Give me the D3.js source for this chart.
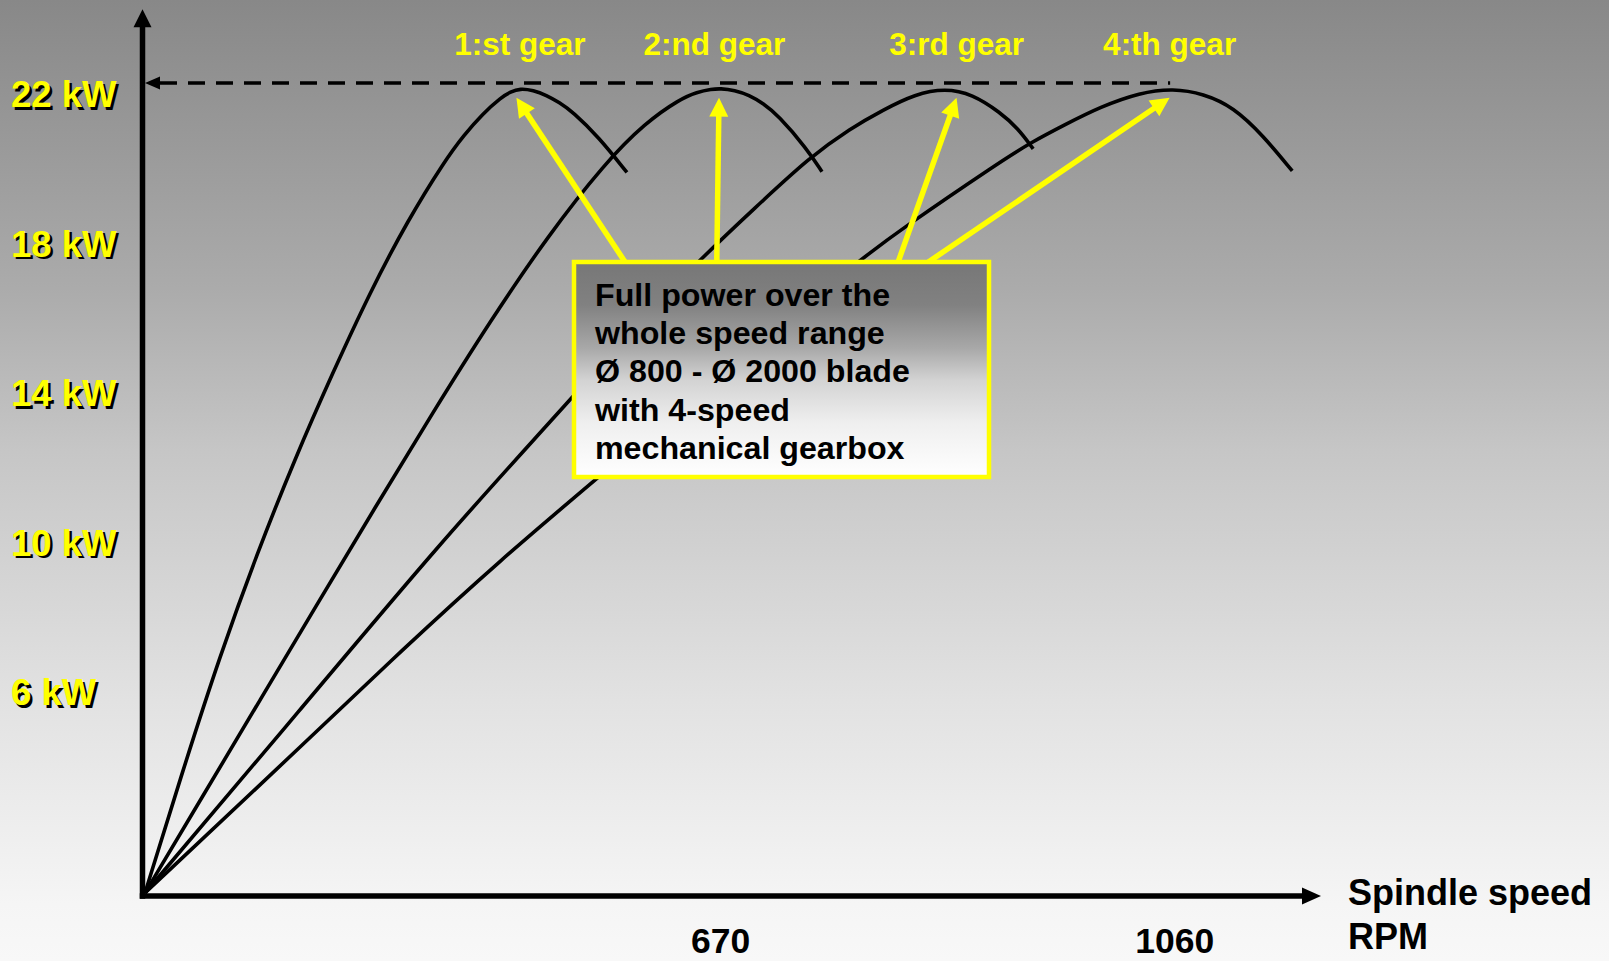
<!DOCTYPE html>
<html><head><meta charset="utf-8">
<script src="https://cdn.jsdelivr.net/npm/d3@7"></script>
<style>html,body{margin:0;padding:0;overflow:hidden;background:#fff}</style>
</head><body>
<svg id="chart" width="1609" height="961"></svg>
<script>
// ---------- data ----------
const gearNames = ["1:st gear", "2:nd gear", "3:rd gear", "4:th gear"];
const gear1Rpm = [176, 208.2, 240.4, 272.6, 304.8, 337.1, 369.3, 401.5, 433.7, 449.8, 465.9, 482.0, 490.0, 498.1, 509.5, 520.6, 531.9, 543.2, 565.7, 589.9];
const gear1Kw  = [0, 3.3, 6.45, 9.25, 11.8, 14.12, 16.32, 18.26, 19.9, 20.58, 21.16, 21.61, 21.76, 21.85, 21.8, 21.67, 21.47, 21.22, 20.53, 19.57];
const gear2Rpm = [176, 225.4, 274.8, 324.2, 373.6, 423, 472.4, 521.8, 571.2, 605.8, 635.4, 650.2, 662.6, 670, 682.4, 694.7, 707.1, 719.4, 744.1, 757.4];
const gear2Kw  = [0, 2.62, 5.24, 7.86, 10.47, 13.04, 15.53, 17.84, 19.83, 20.92, 21.56, 21.75, 21.83, 21.85, 21.8, 21.67, 21.44, 21.13, 20.23, 19.59];
const gear3Rpm = [176, 309.2, 429.4, 525.6, 588.3, 650.2, 700, 747.1, 781.6, 810, 837.5, 863.2, 886.4, 910.5, 925.9, 938.8];
const gear3Kw  = [0, 4.97, 9.51, 12.85, 15.07, 17.14, 18.61, 19.99, 20.76, 21.27, 21.7, 21.85, 21.7, 21.2, 20.76, 20.21];
const gear4Rpm = [176, 320.3, 395.1, 481, 568.6, 678.5, 787.6, 824.6, 910.5, 936.2, 966.3, 996.4, 1030.7, 1059.1, 1084.9, 1110.6, 1136.4, 1161.3];
const gear4Kw  = [0, 4.29, 6.55, 9.04, 11.38, 14.31, 17.14, 18.01, 19.86, 20.37, 20.87, 21.35, 21.74, 21.85, 21.71, 21.35, 20.57, 19.61];
const powerTicks = [22, 18, 14, 10, 6];
const powerTickLabels = ["22 kW", "18 kW", "14 kW", "10 kW", "6 kW"];
const speedTicks = [670, 1060];
const ratedPower = 22;
const gearPeakRpm = [495, 669, 873, 1056];
const gearLabelRpm = [498, 665, 873, 1056];
const arrowTipKw = 21.6;
const noteLines = ["Full power over the", "whole speed range", "Ø 800 - Ø 2000 blade", "with 4-speed", "mechanical gearbox"];
const axisTitleLines = ["Spindle speed", "RPM"];

// ---------- setup ----------
const W = 1609, H = 961;
const svg = d3.select("#chart");
const FONT = "'Liberation Sans', Arial, Helvetica, sans-serif";
const defs = svg.append("defs");

const bg = defs.append("linearGradient").attr("id", "bg").attr("x1", 0).attr("y1", 0).attr("x2", 0).attr("y2", 1);
[[0, "#888888"], [0.3, "#ababab"], [0.47, "#c6c6c6"], [0.73, "#e2e2e2"], [0.94, "#f5f5f5"], [1, "#f8f8f8"]]
  .forEach(([o, c]) => bg.append("stop").attr("offset", o).attr("stop-color", c));
const boxG = defs.append("linearGradient").attr("id", "boxg").attr("x1", 0).attr("y1", 0).attr("x2", 0).attr("y2", 1);
[[0, "#777777"], [0.2, "#818181"], [0.4, "#a8a8a8"], [0.55, "#d3d3d3"], [0.75, "#efefef"], [1, "#ffffff"]]
  .forEach(([o, c]) => boxG.append("stop").attr("offset", o).attr("stop-color", c));

svg.append("rect").attr("width", W).attr("height", H).attr("fill", "url(#bg)");

const x = d3.scaleLinear().domain([176, 1186]).range([145, 1321]);
const y = d3.scaleLinear().domain([0, 24]).range([893, 893 - 24 * 36.82]);
const labelY = d3.scaleLinear().domain([6, 22]).range([705, 107]);

// ---------- axes ----------
const axW = 5.5;
const ax0 = x(x.domain()[0]) - 2.5, ay0 = y(0) + 3;
const axTopY = y(y.domain()[1]);
const axRightX = x(x.domain()[1]);
svg.append("line").attr("x1", ax0).attr("x2", ax0).attr("y1", ay0 + axW / 2).attr("y2", axTopY + 12)
  .attr("stroke", "#000").attr("stroke-width", axW);
svg.append("path").attr("d", `M${ax0},${axTopY} L${ax0 - 9},${axTopY + 18} L${ax0 + 9},${axTopY + 18} Z`).attr("fill", "#000");
svg.append("line").attr("x1", ax0 - axW / 2).attr("x2", axRightX - 12).attr("y1", ay0).attr("y2", ay0)
  .attr("stroke", "#000").attr("stroke-width", axW);
svg.append("path").attr("d", `M${axRightX},${ay0} L${axRightX - 19},${ay0 - 8.5} L${axRightX - 19},${ay0 + 8.5} Z`).attr("fill", "#000");

// x tick labels through d3 axis
const xAxis = svg.append("g").attr("transform", `translate(0,${ay0})`)
  .call(d3.axisBottom(x).tickValues(speedTicks).tickSize(0).tickPadding(32).tickFormat(d3.format("d")));
xAxis.select(".domain").remove();
xAxis.selectAll("text").attr("font-family", FONT).attr("font-size", 35.5).attr("font-weight", "bold").attr("fill", "#000");

// axis title
svg.append("g").selectAll("text").data(axisTitleLines).join("text")
  .attr("x", 1348).attr("y", (d, i) => 905 + i * 44)
  .attr("font-family", FONT).attr("font-size", 36).attr("font-weight", "bold").attr("fill", "#000")
  .text(d => d);

// y tick labels (yellow with black shadow)
const yl = svg.append("g");
yl.selectAll("text.sh").data(powerTicks).join("text").attr("class", "sh")
  .attr("x", 11 + 2.5).attr("y", d => labelY(d) + 2.5)
  .attr("font-family", FONT).attr("font-size", 36.5).attr("font-weight", "bold").attr("fill", "#000")
  .text((d, i) => powerTickLabels[i]);
yl.selectAll("text.fg").data(powerTicks).join("text").attr("class", "fg")
  .attr("x", 11).attr("y", d => labelY(d))
  .attr("font-family", FONT).attr("font-size", 36.5).attr("font-weight", "bold").attr("fill", "#ffff00")
  .text((d, i) => powerTickLabels[i]);

// ---------- rated power dashed line ----------
const dashY = y(ratedPower);
const dashL = ax0 + 2.5;
svg.append("line").attr("x1", dashL + 12).attr("x2", x(gearPeakRpm[3]) + 0.5).attr("y1", dashY).attr("y2", dashY)
  .attr("stroke", "#000").attr("stroke-width", 3.6).attr("stroke-dasharray", "17,11").attr("stroke-dashoffset", -3);
svg.append("path").attr("d", `M${dashL},${dashY} L${dashL + 15},${dashY - 6.5} L${dashL + 15},${dashY + 6.5} Z`).attr("fill", "#000");

// ---------- gear curves ----------
const gears = [[gear1Rpm, gear1Kw], [gear2Rpm, gear2Kw], [gear3Rpm, gear3Kw], [gear4Rpm, gear4Kw]]
  .map(([r, k]) => r.map((v, i) => [v, k[i]]));
const line = d3.line().x(d => x(d[0])).y(d => y(d[1])).curve(d3.curveBasis);
svg.append("g").selectAll("path").data(gears).join("path")
  .attr("d", line).attr("fill", "none").attr("stroke", "#000").attr("stroke-width", 3.6)
  .attr("stroke-linejoin", "round");

// gear labels
svg.append("g").selectAll("text").data(gearNames).join("text")
  .attr("x", (d, i) => x(gearLabelRpm[i])).attr("y", 55).attr("text-anchor", "middle")
  .attr("font-family", FONT).attr("font-size", 31.5).attr("font-weight", "bold").attr("fill", "#ffff00")
  .text(d => d);

// ---------- note box + arrows ----------
const box = {x: 574, y: 262, w: 415, h: 215};
const arrowBaseFrac = [0.123, 0.344, 0.781, 0.854];
const arrows = gearPeakRpm.map((r, i) => ({
  x1: box.x + box.w * arrowBaseFrac[i], y1: box.y,
  x2: x(r), y2: y(arrowTipKw)
}));
const ag = svg.append("g");
arrows.forEach(a => {
  const dx = a.x2 - a.x1, dy = a.y2 - a.y1, L = Math.hypot(dx, dy);
  const ux = dx / L, uy = dy / L, hl = 19, hw = 9.5;
  const bx = a.x2 - ux * hl, by = a.y2 - uy * hl;
  ag.append("line").attr("x1", a.x1).attr("y1", a.y1).attr("x2", bx + ux * 2).attr("y2", by + uy * 2)
    .attr("stroke", "#ffff00").attr("stroke-width", 5.5);
  ag.append("path").attr("d", `M${a.x2},${a.y2} L${bx - uy * hw},${by + ux * hw} L${bx + uy * hw},${by - ux * hw} Z`)
    .attr("fill", "#ffff00");
});

svg.append("rect").attr("x", box.x).attr("y", box.y).attr("width", box.w).attr("height", box.h)
  .attr("fill", "url(#boxg)").attr("stroke", "#ffff00").attr("stroke-width", 4.5);
svg.append("g").selectAll("text").data(noteLines).join("text")
  .attr("x", box.x + 21).attr("y", (d, i) => box.y + 44 + i * 38.2)
  .attr("font-family", FONT).attr("font-size", 32.2).attr("font-weight", "bold").attr("fill", "#000")
  .text(d => d);
</script>
</body></html>
